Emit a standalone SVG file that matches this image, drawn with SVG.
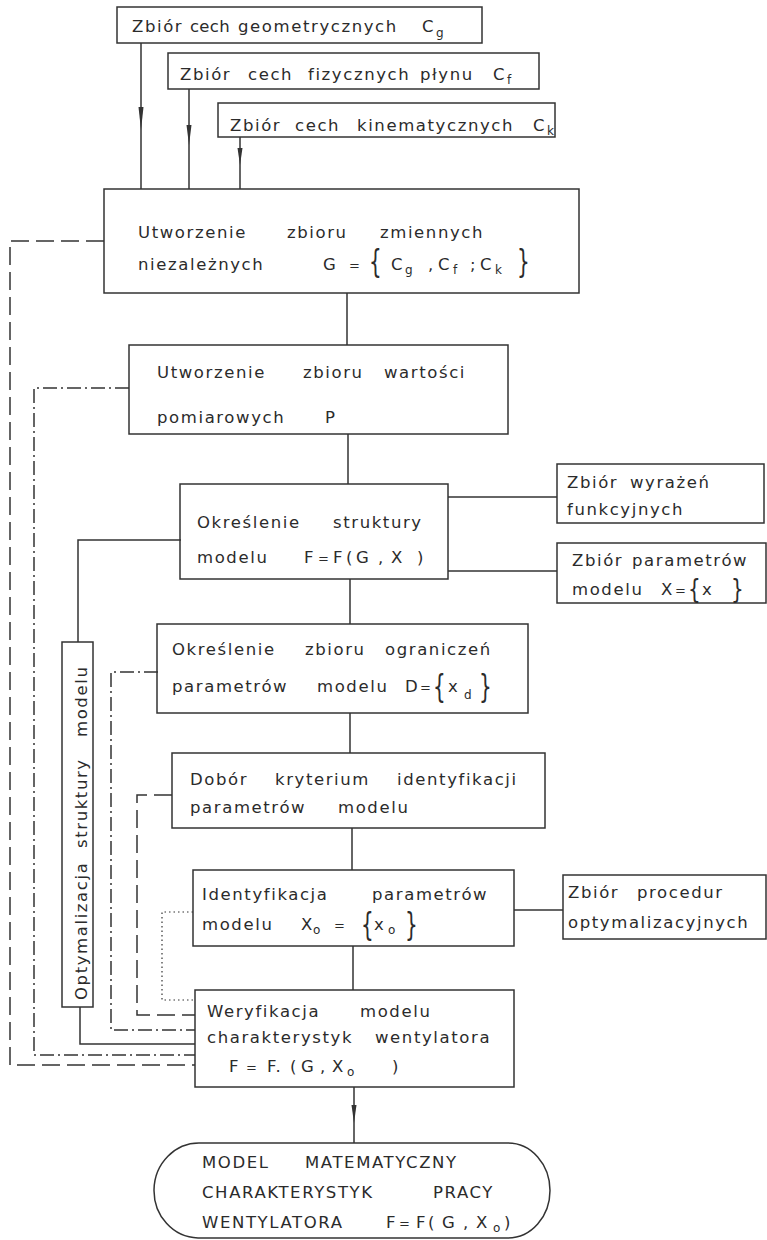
<svg xmlns="http://www.w3.org/2000/svg" width="767" height="1240" viewBox="0 0 767 1240">
<style>
  .bg { fill: #ffffff; }
  .box { fill: none; stroke: #333; stroke-width: 1.5; }
  .ln { fill: none; stroke: #333; stroke-width: 1.5; }
  .dash { stroke-dasharray: 18 7; }
  .dashdot { stroke-dasharray: 14 4 2 4; }
  .dot { stroke-dasharray: 1.5 3; stroke-width: 1.2; }
  .arr { fill: #333; stroke: none; }
  .t { font-family: "DejaVu Sans", "Liberation Sans", sans-serif; font-size: 16.5px; fill: #2b2b2b; letter-spacing: 1.6px; }
  .sub { font-size: 12px; letter-spacing: 0; }
  .eq { font-size: 13px; letter-spacing: 0; }
  .tight { letter-spacing: 0.3px; }
  .br { font-family: "DejaVu Sans", "Liberation Sans", sans-serif; font-size: 20px; fill: #2b2b2b; }
</style>
<rect class="bg" x="0" y="0" width="767" height="1240"/>

<g id="connectors">
  <line class="ln" x1="141" y1="43" x2="141" y2="189"/>
  <polygon class="arr" points="138.5,107 143.5,107 141,130"/>
  <line class="ln" x1="189" y1="89" x2="189" y2="189"/>
  <polygon class="arr" points="186.5,125 191.5,125 189,145"/>
  <line class="ln" x1="240" y1="137" x2="240" y2="189"/>
  <polygon class="arr" points="237.5,148 242.5,148 240,165"/>
  <line class="ln" x1="347" y1="293" x2="347" y2="345"/>
  <line class="ln" x1="348" y1="434" x2="348" y2="484"/>
  <line class="ln" x1="350" y1="579" x2="350" y2="624"/>
  <line class="ln" x1="350" y1="713" x2="350" y2="753"/>
  <line class="ln" x1="352" y1="828" x2="352" y2="870"/>
  <line class="ln" x1="353" y1="946" x2="353" y2="990"/>
  <line class="ln" x1="354" y1="1087" x2="354" y2="1143"/>
  <polygon class="arr" points="351.5,1105 356.5,1105 354,1123"/>
  <line class="ln" x1="448" y1="497" x2="557" y2="497"/>
  <line class="ln" x1="448" y1="571" x2="557" y2="571"/>
  <line class="ln" x1="514" y1="910" x2="563" y2="910"/>
  <path class="ln dash" d="M104,241 H10 V1065 H195"/>
  <path class="ln dashdot" d="M129,388 H34 V1055 H195"/>
  <path class="ln" d="M181,540 H78 V642"/>
  <path class="ln" d="M80,1007 V1044 H195"/>
  <path class="ln dashdot" d="M158,672 H111 V1030 H195"/>
  <path class="ln dash" d="M172,795 H137 V1015 H195"/>
  <path class="ln dot" d="M193,912 H162 V1000 H195"/>
</g>

<g id="node-cg">
  <rect class="box" x="117" y="7" width="365" height="36"/>
  <text class="t" y="32"><tspan x="132">Zbiór </tspan><tspan class="tight" x="190">cech </tspan><tspan x="238">geometrycznych </tspan><tspan x="422">C</tspan><tspan class="sub" x="436" y="37">g</tspan></text>
</g>

<g id="node-cf">
  <rect class="box" x="168" y="53" width="371" height="36"/>
  <text class="t" y="80"><tspan x="180">Zbiór </tspan><tspan x="248">cech </tspan><tspan x="308">fizycznych </tspan><tspan x="420">płynu </tspan><tspan x="493">C</tspan><tspan class="sub" x="507" y="84">f</tspan></text>
</g>

<g id="node-ck">
  <rect class="box" x="218" y="103" width="337" height="34"/>
  <text class="t" y="131"><tspan x="230">Zbiór </tspan><tspan x="295">cech </tspan><tspan x="357">kinematycznych </tspan><tspan x="533">C</tspan><tspan class="sub" x="547" y="135">k</tspan></text>
</g>

<g id="node-g">
  <rect class="box" x="104" y="189" width="475" height="104"/>
  <text class="t" y="238"><tspan x="138">Utworzenie </tspan><tspan x="287">zbioru </tspan><tspan x="380">zmiennych</tspan></text>
  <text class="t" y="270"><tspan x="138">niezależnych </tspan><tspan x="323">G</tspan><tspan class="eq" x="349">=</tspan></text>
  <text class="br" transform="translate(369,272) scale(1,1.6)">{</text>
  <text class="t" y="270"><tspan x="391">C</tspan><tspan class="sub" x="405" y="274">g</tspan><tspan x="428" y="270">,</tspan><tspan x="438" y="270">C</tspan><tspan class="sub" x="453" y="274">f</tspan><tspan x="470" y="270">;</tspan><tspan x="480" y="270">C</tspan><tspan class="sub" x="495" y="274">k</tspan></text>
  <text class="br" transform="translate(517,272) scale(1,1.6)">}</text>
</g>

<g id="node-p">
  <rect class="box" x="129" y="345" width="379" height="89"/>
  <text class="t" y="378"><tspan x="157">Utworzenie </tspan><tspan x="303">zbioru </tspan><tspan x="384">wartości</tspan></text>
  <text class="t" y="423"><tspan x="157">pomiarowych </tspan><tspan x="325">P</tspan></text>
</g>

<g id="node-f">
  <rect class="box" x="180" y="484" width="268" height="95"/>
  <text class="t" y="528"><tspan x="197">Określenie </tspan><tspan x="333">struktury</tspan></text>
  <text class="t" y="563"><tspan x="197">modelu </tspan><tspan x="304">F</tspan><tspan class="eq" x="318">=</tspan><tspan x="333">F</tspan><tspan x="346">(</tspan><tspan x="356">G</tspan><tspan x="378">,</tspan><tspan x="391">X</tspan><tspan x="417">)</tspan></text>
</g>

<g id="node-wyrazen">
  <rect class="box" x="557" y="464" width="207" height="59"/>
  <text class="t" y="488"><tspan x="567">Zbiór </tspan><tspan x="630">wyrażeń</tspan></text>
  <text class="t" y="515"><tspan x="567">funkcyjnych</tspan></text>
</g>

<g id="node-param">
  <rect class="box" x="557" y="543" width="209" height="60"/>
  <text class="t" y="566"><tspan x="572">Zbiór </tspan><tspan x="632">parametrów</tspan></text>
  <text class="t" y="595"><tspan x="572">modelu </tspan><tspan x="661">X</tspan><tspan class="eq" x="675">=</tspan></text>
  <text class="br" transform="translate(688,598) scale(1,1.35)">{</text>
  <text class="t" y="595" x="702">x</text>
  <text class="br" transform="translate(731,598) scale(1,1.35)">}</text>
</g>

<g id="node-d">
  <rect class="box" x="157" y="624" width="371" height="89"/>
  <text class="t" y="655"><tspan x="172">Określenie </tspan><tspan x="305">zbioru </tspan><tspan x="385">ograniczeń</tspan></text>
  <text class="t" y="692"><tspan x="172">parametrów </tspan><tspan x="317">modelu </tspan><tspan x="405">D</tspan><tspan class="eq" x="420">=</tspan></text>
  <text class="br" transform="translate(433,697) scale(1,1.6)">{</text>
  <text class="t" y="692"><tspan x="448">x</tspan><tspan class="sub" x="464" y="699">d</tspan></text>
  <text class="br" transform="translate(479,697) scale(1,1.6)">}</text>
</g>

<g id="node-kryterium">
  <rect class="box" x="172" y="753" width="373" height="75"/>
  <text class="t" y="785"><tspan x="190">Dobór </tspan><tspan x="275">kryterium </tspan><tspan x="397">identyfikacji</tspan></text>
  <text class="t" y="813"><tspan x="190">parametrów </tspan><tspan x="338">modelu</tspan></text>
</g>

<g id="node-ident">
  <rect class="box" x="193" y="870" width="321" height="76"/>
  <text class="t" y="900"><tspan x="202">Identyfikacja </tspan><tspan x="372">parametrów</tspan></text>
  <text class="t" y="930"><tspan x="202">modelu </tspan><tspan x="301">X</tspan><tspan class="sub" x="313" y="934">o</tspan><tspan class="eq" x="334" y="930">=</tspan></text>
  <text class="br" transform="translate(361,935) scale(1,1.6)">{</text>
  <text class="t" y="930"><tspan x="374">x</tspan><tspan class="sub" x="388" y="934">o</tspan></text>
  <text class="br" transform="translate(405,935) scale(1,1.6)">}</text>
</g>

<g id="node-procedur">
  <rect class="box" x="563" y="875" width="203" height="64"/>
  <text class="t" y="898"><tspan x="568">Zbiór </tspan><tspan x="637">procedur</tspan></text>
  <text class="t" y="928"><tspan x="568">optymalizacyjnych</tspan></text>
</g>

<g id="node-weryfikacja">
  <rect class="box" x="195" y="990" width="319" height="97"/>
  <text class="t" y="1017"><tspan x="207">Weryfikacja </tspan><tspan x="360">modelu</tspan></text>
  <text class="t" y="1043"><tspan x="207">charakterystyk </tspan><tspan x="375">wentylatora</tspan></text>
  <text class="t" y="1072"><tspan x="229">F</tspan><tspan class="eq" x="246">=</tspan><tspan x="267">F.</tspan><tspan x="290">(</tspan><tspan x="301">G</tspan><tspan x="320">,</tspan><tspan x="332">X</tspan><tspan class="sub" x="347" y="1076">o</tspan><tspan x="392" y="1072">)</tspan></text>
</g>

<g id="node-optymalizacja">
  <rect class="box" x="62" y="642" width="31" height="365"/>
  <text class="t" transform="translate(87,1000) rotate(-90)"><tspan x="0">Optymalizacja </tspan><tspan x="152">struktury </tspan><tspan x="263">modelu</tspan></text>
</g>

<g id="node-model">
  <path class="box" d="M200,1143 H508 A42,47.5 0 0 1 508,1238 H198 A45,47.5 0 0 1 200,1143 Z"/>
  <text class="t" y="1168"><tspan x="202">MODEL </tspan><tspan x="305">MATEMATYCZNY</tspan></text>
  <text class="t" y="1198"><tspan x="202">CHARAKTERYSTYK </tspan><tspan x="433">PRACY</tspan></text>
  <text class="t" y="1228"><tspan x="202">WENTYLATORA </tspan><tspan x="386">F</tspan><tspan class="eq" x="399">=</tspan><tspan x="416">F</tspan><tspan x="428">(</tspan><tspan x="442">G</tspan><tspan x="463">,</tspan><tspan x="476">X</tspan><tspan class="sub" x="493" y="1232">o</tspan><tspan x="504" y="1228">)</tspan></text>
</g>
</svg>
